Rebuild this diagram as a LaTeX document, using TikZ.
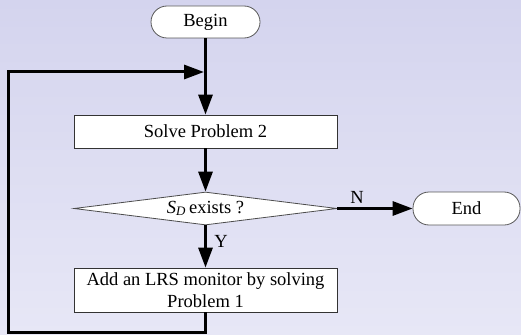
\documentclass[tikz,border=0pt]{standalone}
\usepackage{fontspec}
\setmainfont{Liberation Serif}
\usetikzlibrary{shapes.geometric,arrows.meta}

\definecolor{bgtop}{RGB}{212,212,238}
\definecolor{bgbot}{RGB}{231,231,246}

\begin{document}
\begin{tikzpicture}[x=1pt,y=-1pt,
  every node/.style={font=\fontsize{18.5}{22}\selectfont},
  term/.style={draw=black!65, line width=0.8pt, fill=white, rounded corners=16pt,
    minimum width=109pt, minimum height=32pt, inner sep=0pt},
  procbox/.style={draw=black!80, line width=0.8pt, fill=white,
    minimum width=263pt, inner sep=0pt, align=center},
  decision/.style={diamond, draw=black!70, line width=0.8pt, fill=white,
    minimum width=263pt, minimum height=33pt, inner sep=0pt},
  flow/.style={line width=3pt, -{Triangle[length=20pt,width=14pt]}}
]
% background panel
\shade[top color=bgtop, bottom color=bgbot] (0,0) rectangle (521,334);
\useasboundingbox (0,0) rectangle (521,334);

% blocks
\node[term] (begin) at (205.5,22) {Begin};
\node[procbox, minimum height=33pt] (solve) at (205.5,131.5) {Solve Problem 2};
\node[decision] (check) at (205.5,208.5) {};
\node (checktxt) at (check.center) {\textit{S}\textsubscript{\textit{D}}\,exists ?};
\node[term, minimum width=107pt, minimum height=33pt] (end) at (466.5,208.5) {End};
\node[procbox, minimum height=44pt] (lrs) at (205.5,290)
  {Add an LRS monitor by solving\\Problem 1};

% connectors
\draw[flow] (begin) -- (solve);
\draw[flow] (solve) -- (check.north);
\draw[flow] (check.east) -- node[above, pos=0.26] (nlab) {N} (end.west);
\draw[flow] (check.south) -- node[right, pos=0.37, xshift=4pt] (ylab) {Y} (lrs.north);

% feedback loop
\coordinate (merge) at (204,72);
\coordinate (loopcorner) at (8.5,332.5);
\draw[flow] (lrs.south) |- (loopcorner) |- (merge);
\end{tikzpicture}
\end{document}
